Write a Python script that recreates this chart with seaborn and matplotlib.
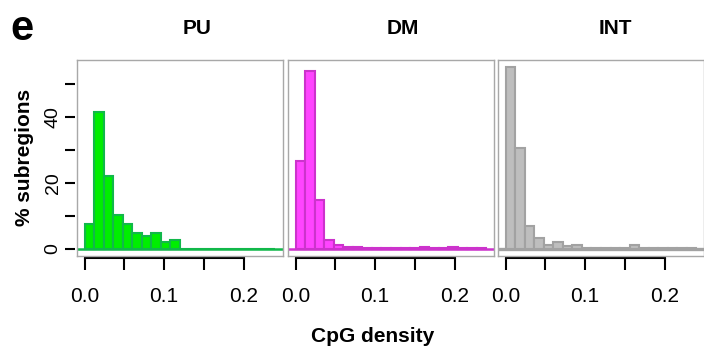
import numpy as np
import pandas as pd
import matplotlib
matplotlib.use("Agg")
import matplotlib.pyplot as plt
import seaborn as sns

# CpG density histograms (percentage of subregions per bin), bins of width 0.012 on [0, 0.24]
bin_width = 0.012
n_bins = 20
groups = ["PU", "DM", "INT"]
pu_pct = [7.5, 41.5, 22.0, 10.3, 7.5, 4.7, 4.0, 4.7, 2.0, 2.5,
          0, 0, 0, 0, 0, 0, 0, 0, 0, 0]
dm_pct = [26.5, 53.8, 14.7, 2.8, 1.0, 0.4, 0.4, 0.3, 0.3, 0.2,
          0.1, 0.1, 0.2, 0.4, 0.3, 0.3, 0.4, 0.3, 0.2, 0.1]
int_pct = [55.0, 30.5, 6.8, 3.3, 1.0, 2.0, 0.8, 1.0, 0.3, 0.3,
           0.3, 0.3, 0.3, 1.2, 0.3, 0.3, 0.3, 0.3, 0.3, 0.3]
fill_colors = ["#00ee00", "#ff44ff", "#bebebe"]
edge_colors = ["#11b84a", "#cc33cc", "#a2a2a2"]
x_ticks = [0.0, 0.05, 0.1, 0.15, 0.2]
x_ticklabels = ["0.0", "", "0.1", "", "0.2"]
y_ticks = [0, 10, 20, 30, 40, 50]
y_ticklabels = ["0", "", "20", "", "40", ""]

sns.set_style("white")
plt.rcParams["font.family"] = ["Liberation Sans", "DejaVu Sans"]
plt.rcParams["text.color"] = "black"
plt.rcParams["xtick.color"] = "black"
plt.rcParams["ytick.color"] = "black"

centers = (np.arange(n_bins) + 0.5) * bin_width

fig = plt.figure(figsize=(7.04, 3.46), dpi=100)
W, H = 704, 346
lefts = [77, 288, 498]
width_px = 206
top_px, bottom_px = 60, 256

for i, (name, vals) in enumerate(zip(groups, [pu_pct, dm_pct, int_pct])):
    ax = fig.add_axes([lefts[i] / W, 1 - bottom_px / H,
                       width_px / W, (bottom_px - top_px) / H])
    df = pd.DataFrame({"density": centers, "pct": vals})
    ax.axhline(0, color=edge_colors[i], lw=1.8 if i < 2 else 2.4, zorder=1)
    sns.histplot(data=df, x="density", weights="pct", binwidth=bin_width,
                 binrange=(0, n_bins * bin_width), ax=ax,
                 color=fill_colors[i], edgecolor=edge_colors[i],
                 linewidth=1.5, alpha=1, zorder=2)
    ax.set_xlim(-0.0096, 0.2496)
    ax.set_ylim(-2.2, 57.2)
    ax.set_xlabel("")
    ax.set_ylabel("")
    for s in ax.spines.values():
        s.set_visible(True)
        s.set_color("#a8a8a8")
        s.set_linewidth(1.0)
    ax.tick_params(left=False, bottom=False, labelleft=False, labelbottom=False)

    # R-style x axis below the box
    sec = ax.secondary_xaxis("bottom")
    sec.set_xticks(x_ticks, labels=x_ticklabels)
    for k, s in sec.spines.items():
        s.set_visible(k == "bottom")
    sec.spines["bottom"].set_position(("outward", 1.5))
    sec.spines["bottom"].set_bounds(0, 0.2)
    sec.spines["bottom"].set_linewidth(1.5)
    sec.spines["bottom"].set_color("black")
    sec.tick_params(direction="out", length=8.5, width=1.5, pad=12,
                    labelsize=15, color="black", labelcolor="black")

    if i == 0:
        secy = ax.secondary_yaxis("left")
        secy.set_yticks(y_ticks, labels=y_ticklabels)
        for s in secy.spines.values():
            s.set_visible(False)
        secy.spines["left"].set_position(("outward", 1.5))
        secy.tick_params(direction="out", length=7.5, width=1.5, pad=2,
                         labelsize=14, labelrotation=90, color="black",
                         labelcolor="black")
        for lab in secy.get_yticklabels():
            lab.set_va("center")

    fig.text([197, 403, 615][i] / W, 1 - 28 / H, name, ha="center", va="center",
             fontsize=15, fontweight="bold")

fig.text(10 / W, 1 - 39.5 / H, "e", ha="left", va="baseline",
         fontsize=30, fontweight="bold")
fig.text(24 / W, 1 - 157 / H, "% subregions", rotation=90, ha="center",
         va="center", fontsize=15, fontweight="bold")
fig.text(373 / W, 1 - 342 / H, "CpG density", ha="center", va="baseline",
         fontsize=15, fontweight="bold")

fig.savefig("out.png", dpi=100)
